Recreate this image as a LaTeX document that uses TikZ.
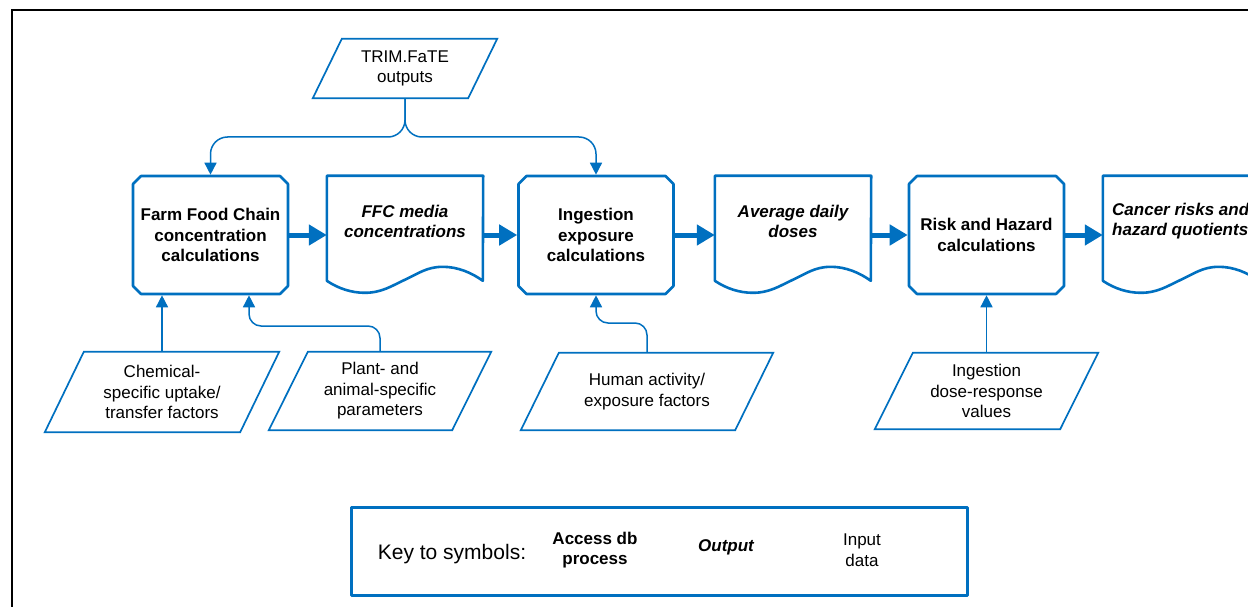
\documentclass[tikz,border=0pt]{standalone}
\usepackage{fontspec}
\setmainfont{Liberation Sans}
\usetikzlibrary{shapes.misc,arrows.meta,calc}
\definecolor{flowblue}{RGB}{0,112,192}
\tikzset{
  procbox/.style={chamfered rectangle, chamfered rectangle xsep=4pt, chamfered rectangle ysep=4pt,
    draw=flowblue, line width=2.6pt, line join=round, minimum width=155pt, minimum height=118pt, inner sep=0pt,
    align=center, font=\fontsize{17}{20.5}\selectfont\bfseries},
  keybox/.style={chamfered rectangle, chamfered rectangle xsep=5pt, chamfered rectangle ysep=5pt,
    draw=flowblue, line width=3pt, line join=round, minimum width=616pt, minimum height=88pt, inner sep=0pt},
  docarea/.style={rectangle, minimum width=156pt, minimum height=118pt, inner sep=0pt},
  doctext/.style={align=center, inner sep=0pt, font=\fontsize{17}{20}\selectfont\bfseries\itshape},
  outline/.style={draw=flowblue, line width=2.6pt, line join=round},
  paraline/.style={draw=flowblue, line width=1.7pt, line join=miter},
  paraarea/.style={rectangle, inner sep=0pt, align=center, font=\fontsize{17}{20.5}\selectfont},
  thinarrow/.style={draw=flowblue, line width=1.5pt, -{Triangle[width=12pt,length=12pt]}, rounded corners=17pt},
  thickarrow/.style={draw=flowblue, line width=5pt, -{Triangle[width=20pt,length=18pt]}},
  plaintext/.style={inner sep=0pt, align=center, font=\fontsize{17}{20.5}\selectfont},
}
\newcommand{\paraoutline}[2]{\draw[paraline] (#1.south west) -- ($(#1.north west)+(#2,0)$) -- (#1.north east) -- ($(#1.south east)+(-#2,0)$) -- cycle;}
\newcommand{\docoutline}[1]{\draw[outline] ($(#1.north west)+(0,105)$) -- (#1.north west) -- (#1.north east) -- ($(#1.north west)+(156,105)$)
  .. controls ($(#1.north west)+(145,97)$) and ($(#1.north west)+(131,91)$) .. ($(#1.north west)+(116,91)$)
  .. controls ($(#1.north west)+(100,91)$) and ($(#1.north west)+(91,98)$) .. ($(#1.north west)+(78,104)$)
  .. controls ($(#1.north west)+(65,110)$) and ($(#1.north west)+(55,117)$) .. ($(#1.north west)+(38,117)$)
  .. controls ($(#1.north west)+(25,117)$) and ($(#1.north west)+(12,113)$) .. ($(#1.north west)+(0,105)$) -- cycle;}
\begin{document}
\begin{tikzpicture}[x=1pt,y=-1pt]
\useasboundingbox (0,0) rectangle (1248,607);
\clip (0,0) rectangle (1248,607);
\fill[white] (0,0) rectangle (1248,607);
% frame
\draw[line width=2pt] (11.5,620) -- (11.5,10.5) -- (1260,10.5);

% top input
\node[paraarea, minimum width=184pt, minimum height=59pt] (trim) at (405,68.5) {TRIM.FaTE\\outputs};
\paraoutline{trim}{29}

% main row
\node[procbox] (b1) at (210.5,235) {Farm Food Chain\\concentration\\calculations};
\node[docarea] (d1) at (405,235) {};
\docoutline{d1}
\node[doctext] (d1t) at (405,221) {FFC media\\concentrations};
\node[procbox] (b2) at (596,235) {Ingestion\\exposure\\calculations};
\node[docarea] (d2) at (793,235) {};
\docoutline{d2}
\node[doctext] (d2t) at (793,221.5) {Average daily\\doses};
\node[procbox] (b3) at (986.5,235) {Risk and Hazard\\calculations};
\node[docarea] (d3) at (1181,235) {};
\docoutline{d3}
\node[doctext, anchor=west, align=left] (d3t) at (1112,221.5) {Cancer risks and\\hazard quotients};

% bottom inputs
\node[paraarea, minimum width=234pt, minimum height=80pt] (chem) at (162,392) {Chemical-\\specific uptake/\\transfer factors};
\paraoutline{chem}{39}
\node[paraarea, minimum width=222pt, minimum height=78pt] (plant) at (380,391) {Plant- and\\animal-specific\\parameters};
\paraoutline{plant}{39}
\node[paraarea, minimum width=252pt, minimum height=77pt] (human) at (647,391.5) {Human activity/\\exposure factors};
\paraoutline{human}{38}
\node[paraarea, minimum width=223pt, minimum height=76pt] (dose) at (986.5,391) {Ingestion\\dose-response\\values};
\paraoutline{dose}{38}

% connectors from top
\coordinate (split) at (405,137);
\draw[thinarrow] (trim.south) -- (split) -- (b1.north |- split) -- (b1.north);
\draw[thinarrow] (trim.south) -- (split) -- (b2.north |- split) -- (b2.north);

% connectors from bottom
\draw[thinarrow] (chem.north) -- (chem.north |- b1.south);
\coordinate (pj) at (249,326);
\draw[thinarrow, rounded corners=12pt] (plant.north) -- (plant.north |- pj) -- (pj) -- (pj |- b1.south);
\coordinate (hj) at (596,323);
\draw[thinarrow, rounded corners=12pt] (human.north) -- (human.north |- hj) -- (hj) -- (b2.south);
\draw[thinarrow] (dose.north) -- (b3.south);

% thick flow arrows
\draw[thickarrow] (b1.east) -- (d1.west);
\draw[thickarrow] (d1.east) -- (b2.west);
\draw[thickarrow] (b2.east) -- (d2.west);
\draw[thickarrow] (d2.east) -- (b3.west);
\draw[thickarrow] (b3.east) -- (d3.west);

% key
\node[keybox] (key) at (659,551) {};
\node[inner sep=0pt, font=\fontsize{21}{25}\selectfont] (keylabel) at (452,554) {Key to symbols:};
\node[plaintext, font=\fontsize{17}{20.5}\selectfont\bfseries] (keyproc) at (595,550) {Access db\\process};
\node[plaintext, font=\fontsize{17}{20.5}\selectfont\bfseries\itshape] (keyout) at (726,547) {Output};
\node[plaintext] (keyin) at (862,550) {Input\\data};
\end{tikzpicture}
\end{document}
